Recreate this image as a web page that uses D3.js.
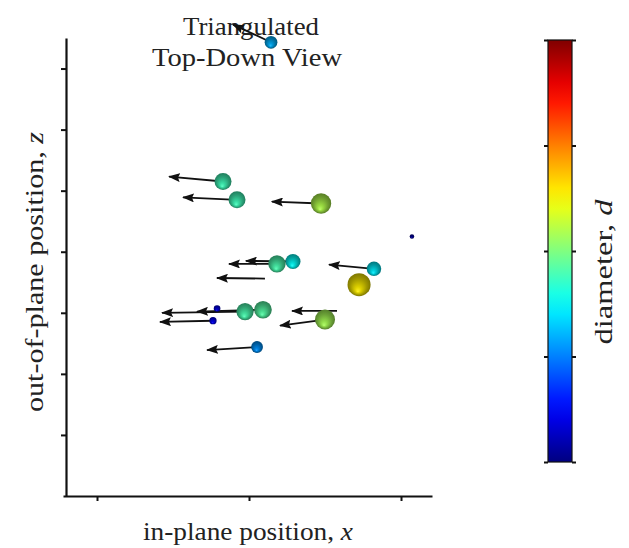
<!DOCTYPE html>
<html>
<head>
<meta charset="utf-8">
<script src="https://cdn.jsdelivr.net/npm/d3@7"></script>
<style>
  html, body { margin: 0; padding: 0; background: #fff; }
  svg { display: block; }
  text { font-family: "Liberation Serif", "Times New Roman", serif; fill: #222; }
</style>
</head>
<body>
<script>
// ---- data (x: in-plane position, z: out-of-plane position, d: normalised diameter) ----
const xStart   = [0.145, -0.171, -0.079, 0.474, 0.184, 0.289, 0.822, 0.724, 0.105, -0.026, 0.092, -0.21, -0.237, 0.50, 0.579, 0.053, 1.072];
const zStart   = [7.43, 5.15, 4.85, 4.79, 3.80, 3.84, 3.72, 3.46, 3.56, 3.02, 3.05, 3.07, 2.87, 2.89, 3.03, 2.44, 4.25];
const xEnd     = [-0.105, -0.526, -0.434, 0.151, -0.132, -0.020, 0.526, 0.724, -0.211, -0.572, -0.342, -0.21, -0.586, 0.204, 0.283, -0.276, 1.072];
const zEnd     = [7.72, 5.23, 4.89, 4.82, 3.80, 3.85, 3.79, 3.46, 3.57, 3.00, 3.02, 3.07, 2.85, 2.79, 3.03, 2.39, 4.25];
const diameter = [0.30, 0.44, 0.44, 0.55, 0.45, 0.38, 0.36, 0.64, null, 0.45, 0.46, 0.10, 0.12, 0.54, null, 0.27, 0.03];
const xTicks = [-1, 0, 1];
const zTicks = [1, 2, 3, 4, 5, 6, 7];
const colorTicks = [0, 0.25, 0.5, 0.75, 1];
const titleLines = ["Triangulated", "Top-Down View"];

const W = 629, H = 548;
const svg = d3.select("body").append("svg").attr("width", W).attr("height", H);
const defs = svg.append("defs");

function jet(t) {
  const cl = v => Math.max(0, Math.min(1, v));
  const r = cl(Math.min(4 * t - 1.5, -4 * t + 4.5));
  const g = cl(Math.min(4 * t - 0.5, -4 * t + 3.5));
  const b = cl(Math.min(4 * t + 0.5, -4 * t + 2.5));
  return d3.rgb(r * 255, g * 255, b * 255);
}

const x = d3.scaleLinear().domain([-1.2237, 1.2039]).range([63, 432]);
const z = d3.scaleLinear().domain([0, 7.5]).range([496, 38]);
const rScale = d3.scaleLinear().domain([0, 1]).range([1.8, 17]);
const cScale = d3.scaleLinear().domain([0, 1]).range([462, 40]);

// ---- title ----
const title = svg.append("g");
title.append("text").attr("x", 251).attr("y", 35).attr("text-anchor", "middle")
  .attr("font-size", 25).attr("textLength", 136).attr("lengthAdjust", "spacingAndGlyphs").text(titleLines[0]);
title.append("text").attr("x", 247).attr("y", 66).attr("text-anchor", "middle")
  .attr("font-size", 25).attr("textLength", 190).attr("lengthAdjust", "spacingAndGlyphs").text(titleLines[1]);

// ---- axes ----
const gx = svg.append("g").attr("transform", "translate(0,496)")
  .call(d3.axisBottom(x).tickValues(xTicks).tickSize(5).tickSizeOuter(0).tickFormat(""));
const gy = svg.append("g").attr("transform", "translate(66,0)")
  .call(d3.axisLeft(z).tickValues(zTicks).tickSize(5).tickSizeOuter(0).tickFormat(""));
[gx, gy].forEach(g => {
  g.select(".domain").attr("stroke", "#111").attr("stroke-width", 2.2);
  g.selectAll(".tick line").attr("stroke", "#111").attr("stroke-width", 2);
});

svg.append("text").attr("x", 248).attr("y", 540).attr("text-anchor", "middle")
  .attr("font-size", 25).attr("textLength", 210).attr("lengthAdjust", "spacingAndGlyphs")
  .html('in-plane position, <tspan font-style="italic">x</tspan>');
svg.append("text").attr("transform", "translate(43,272) rotate(-90)").attr("text-anchor", "middle")
  .attr("font-size", 25).attr("textLength", 280).attr("lengthAdjust", "spacingAndGlyphs")
  .html('out-of-plane position, <tspan font-style="italic">z</tspan>');

// ---- arrows ----
defs.append("marker").attr("id", "head").attr("viewBox", "0 0 12 9")
  .attr("refX", 11).attr("refY", 4.5).attr("markerWidth", 12).attr("markerHeight", 9)
  .attr("markerUnits", "userSpaceOnUse").attr("orient", "auto")
  .append("path").attr("d", "M0,0 L12,4.5 L0,9 L2,4.5 Z").attr("fill", "#111");

const pts = xStart.map((v, i) => ({ i, xs: v, zs: zStart[i], xe: xEnd[i], ze: zEnd[i], d: diameter[i] }));

svg.append("g").selectAll("line")
  .data(pts.filter(p => p.xs !== p.xe || p.zs !== p.ze))
  .join("line")
  .attr("x1", p => x(p.xs)).attr("y1", p => z(p.zs))
  .attr("x2", p => x(p.xe)).attr("y2", p => z(p.ze))
  .attr("stroke", "#111").attr("stroke-width", 1.8)
  .attr("marker-end", "url(#head)");

// ---- spheres ----
const spheres = pts.filter(p => p.d !== null);
spheres.forEach(p => {
  const c = jet(p.d);
  const gr = defs.append("radialGradient").attr("id", "sph" + p.i)
    .attr("cx", "50%").attr("cy", "45%").attr("r", "58%").attr("fx", "45%").attr("fy", "80%");
  gr.append("stop").attr("offset", "0%").attr("stop-color", d3.interpolateRgb(c, "#ffffff")(0.15));
  gr.append("stop").attr("offset", "22%").attr("stop-color", c.darker(0.4));
  gr.append("stop").attr("offset", "60%").attr("stop-color", c.darker(1.3));
  gr.append("stop").attr("offset", "100%").attr("stop-color", c.darker(2.4));
});
svg.append("g").selectAll("circle")
  .data(spheres.sort((a, b) => a.d - b.d))
  .join("circle")
  .attr("cx", p => x(p.xs)).attr("cy", p => z(p.zs))
  .attr("r", p => rScale(p.d))
  .attr("fill", p => "url(#sph" + p.i + ")");

// ---- colorbar ----
const cg = defs.append("linearGradient").attr("id", "jetbar")
  .attr("x1", 0).attr("y1", 1).attr("x2", 0).attr("y2", 0);
d3.range(0, 1.0001, 0.05).forEach(t => cg.append("stop").attr("offset", t).attr("stop-color", jet(t)));
svg.append("rect").attr("x", 548).attr("y", cScale(1)).attr("width", 24)
  .attr("height", cScale(0) - cScale(1)).attr("fill", "url(#jetbar)")
  .attr("stroke", "#111").attr("stroke-width", 1.2);
const cl = svg.append("g").attr("transform", "translate(548,0)")
  .call(d3.axisLeft(cScale).tickValues(colorTicks).tickSize(4).tickFormat(""));
const cr = svg.append("g").attr("transform", "translate(572,0)")
  .call(d3.axisRight(cScale).tickValues(colorTicks).tickSize(4).tickFormat(""));
[cl, cr].forEach(g => {
  g.select(".domain").remove();
  g.selectAll(".tick line").attr("stroke", "#111").attr("stroke-width", 2);
});
svg.append("text").attr("transform", "translate(612,272) rotate(-90)").attr("text-anchor", "middle")
  .attr("font-size", 25).attr("textLength", 145).attr("lengthAdjust", "spacingAndGlyphs")
  .html('diameter, <tspan font-style="italic">d</tspan>');
</script>
</body>
</html>
